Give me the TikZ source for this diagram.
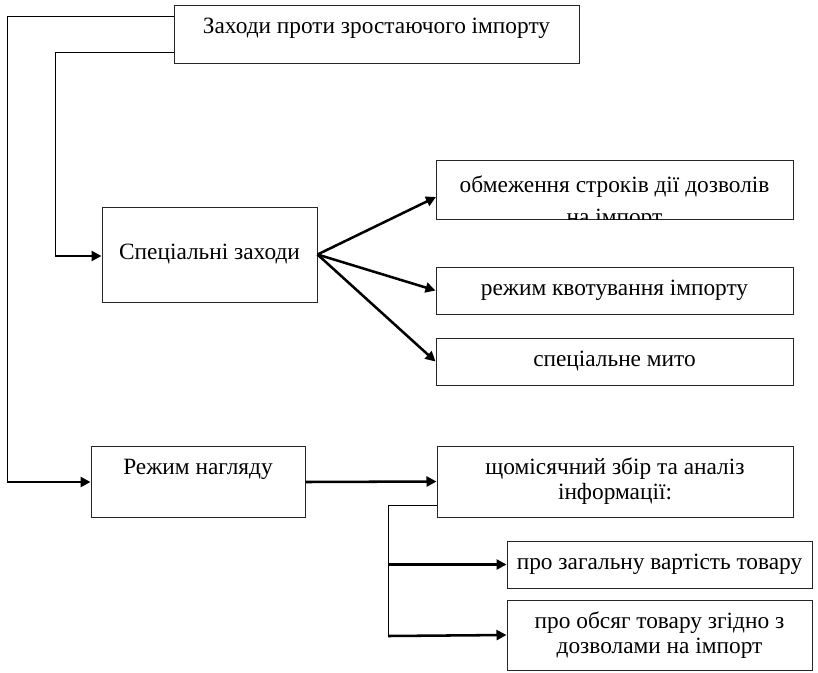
\documentclass[tikz,border=0pt]{standalone}
\usepackage{fontspec}
\setmainfont{Liberation Serif}
\usetikzlibrary{arrows.meta,calc}
\begin{document}
\begin{tikzpicture}[x=0.75pt,y=-0.75pt,
  box/.style={draw=black!85, line width=0.75pt, inner sep=0pt, align=center,
    font=\fontsize{17.5}{18.75}\selectfont},
  wh/.style 2 args={minimum width=#1*0.75pt, minimum height=#2*0.75pt},
  thinline/.style={draw=black, line width=0.75pt},
  arr/.style={draw=black, line width=1.9pt, -{Triangle[length=7.5pt,width=7.5pt]}},
]
\useasboundingbox (0,0) rectangle (818,672);

% boxes
\node[box, anchor=north, minimum width=405*0.75pt, text height=28*0.75pt,
      text depth=30*0.75pt] (top) at (376.5,5) {Заходи проти зростаючого імпорту};
\node[box, wh={215}{95}] (sp) at (209.5,254.5) {Спеціальні заходи};
\node[box, wh={357}{59}] (b1) at (614.5,189.5) {};
\begin{scope}
  \clip (b1.south west) rectangle (b1.north east);
  \node[box, draw=none, font=\fontsize{17.5}{24}\selectfont] at (614.5,203)
    {обмеження строків дії дозволів\\на імпорт};
\end{scope}
\node[box, wh={357}{47}] (b2) at (614.5,290.5) {режим квотування імпорту};
\node[box, wh={357}{47}] (b3) at (614.5,361.5) {спеціальне мито};
\node[box, anchor=north, minimum width=214*0.75pt, text height=28*0.75pt,
      text depth=43*0.75pt] (rn) at (198,446) {Режим нагляду};
\node[box, wh={356}{71}] (mi) at (615,481.5) {щомісячний збір та аналіз\\інформації:};
\node[box, wh={305}{47}] (g1) at (659.5,564.5) {про загальну вартість товару};
\node[box, wh={305}{70}] (g2) at (659.5,635) {про обсяг товару згідно з\\дозволами на імпорт};

% outer feed lines from the top box
\coordinate (a1) at (7,16);
\coordinate (a2) at (7,482);
\draw[thinline] (top.west |- a1) -- (a1) -- (a2);
\draw[arr] (a2) -- (rn.west |- a2);
\coordinate (c1) at (55,52);
\coordinate (c2) at (55,256);
\draw[thinline] (top.west |- c1) -- (c1) -- (c2);
\draw[arr] (c2) -- (sp.west |- c2);

% special measures
\coordinate (t1) at (436,197);
\draw[arr] (sp.east) -- (t1);
\draw[arr] (sp.east) -- (b2.west);
\draw[arr] (sp.east) -- (b3.west);

% surveillance regime
\draw[arr] (rn.east) -- (mi.west);
\coordinate (d1) at (388,505);
\coordinate (d2) at (388,636);
\draw[thinline] (mi.west |- d1) -- (d1) -- (d2);
\draw[arr] (d1 |- g1.west) -- (g1.west);
\draw[arr] (d2) -- (g2.west);
\end{tikzpicture}
\end{document}
